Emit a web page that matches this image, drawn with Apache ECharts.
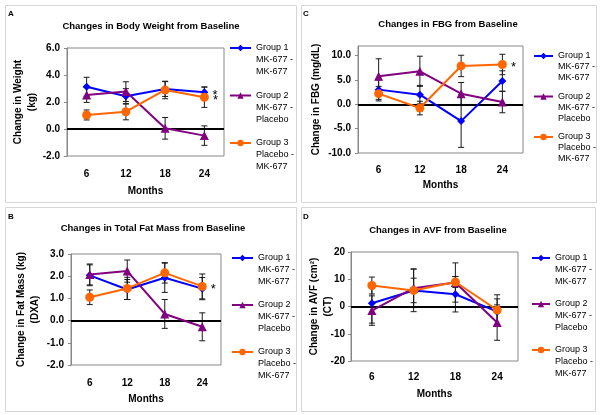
<!DOCTYPE html>
<html>
<head>
<meta charset="utf-8">
<script src="https://cdn.jsdelivr.net/npm/echarts@6/dist/echarts.min.js"></script>
<style>html,body{margin:0;padding:0;background:#fff}#c{width:600px;height:415px}</style>
</head>
<body>
<div id="c"></div>
<script>
// ---- data ----
const months = ['6', '12', '18', '24'];
const groupNames = ['Group 1', 'Group 2', 'Group 3'];
const groupLabels = ['Group 1\nMK-677 -\nMK-677', 'Group 2\nMK-677 -\nPlacebo', 'Group 3\nPlacebo -\nMK-677'];

// A: Body weight (kg)
const weightG1 = [3.13, 2.42, 2.96, 2.72];
const weightG2 = [2.52, 2.77, 0.05, -0.49];
const weightG3 = [1.04, 1.28, 2.89, 2.35];
const weightErrG1 = [0.70, 0.57, 0.55, 0.40];
const weightErrG2 = [0.55, 0.73, 0.80, 0.72];
const weightErrG3 = [0.37, 0.60, 0.65, 0.75];

// B: Total fat mass (kg)
const fatG1 = [2.04, 1.40, 1.93, 1.44];
const fatG2 = [2.08, 2.23, 0.30, -0.28];
const fatG3 = [1.05, 1.45, 2.15, 1.54];
const fatErrG1 = [0.47, 0.45, 0.66, 0.50];
const fatErrG2 = [0.47, 0.50, 0.65, 0.63];
const fatErrG3 = [0.33, 0.50, 0.46, 0.56];

// C: FBG (mg/dL)
const fbgG1 = [3.03, 2.00, -3.44, 4.80];
const fbgG2 = [5.77, 6.80, 2.20, 0.47];
const fbgG3 = [2.20, -0.76, 7.90, 8.20];
const fbgErrG1 = [2.0, 1.9, 5.4, 2.1];
const fbgErrG2 = [3.6, 3.1, 2.3, 2.2];
const fbgErrG3 = [1.5, 1.4, 2.2, 2.1];

// D: AVF (cm²)
const avfG1 = [1.2, 5.9, 4.5, -1.9];
const avfG2 = [-1.5, 6.7, 8.8, -5.9];
const avfG3 = [7.7, 5.9, 9.0, -1.3];
const avfErrG1 = [7.3, 7.8, 6.5, 4.7];
const avfErrG2 = [5.4, 7.1, 7.2, 6.5];
const avfErrG3 = [3.1, 4.5, 2.0, 5.6];

// significance asterisks: [panel, group index, month index]
const asterisks = [['A', 0, 3], ['A', 2, 3], ['B', 2, 3], ['C', 2, 3]];

// ---- style ----
const FONT = 'Liberation Sans, Arial, sans-serif';
const colors = ['#0000FF', '#800080', '#FF6600'];
const symbols = ['diamond', 'triangle', 'circle'];
const symbolSizes = [8, 9, 9];

const panels = [
  { id: 'A', title: 'Changes in Body Weight from Baseline', yName: 'Change in Weight\n(kg)',
    vals: [weightG1, weightG2, weightG3], errs: [weightErrG1, weightErrG2, weightErrG3],
    grid: { left: 67, top: 48, width: 157, height: 108 }, y: { min: -2, max: 6, interval: 2, dec: 1 },
    titleX: 151, titleY: 21.5, letter: [8, 10], nameGap: 27.5, yMargin: 7, labMargin: 13, monthsGap: 30,
    legend: { left: 229, top: 18, itemWidth: 21, lh: 12, gap: -12.5 }, box: [5, 5, 291, 197] },
  { id: 'B', title: 'Changes in Total Fat Mass from Baseline', yName: 'Change in Fat Mass (kg)\n(DXA)',
    vals: [fatG1, fatG2, fatG3], errs: [fatErrG1, fatErrG2, fatErrG3],
    grid: { left: 71, top: 254, width: 150, height: 111 }, y: { min: -2, max: 3, interval: 1, dec: 1 },
    titleX: 153, titleY: 223.5, letter: [8, 213], nameGap: 29, yMargin: 7, labMargin: 13, monthsGap: 29,
    legend: { left: 231, top: 228, itemWidth: 21, lh: 12, gap: -13 }, box: [5, 207, 291, 204] },
  { id: 'C', title: 'Changes in FBG from Baseline', yName: 'Change in FBG (mg/dL)',
    vals: [fbgG1, fbgG2, fbgG3], errs: [fbgErrG1, fbgErrG2, fbgErrG3],
    grid: { left: 358, top: 46, width: 165, height: 107 }, y: { min: -10, max: 12, interval: 5, dec: 1 },
    titleX: 448, titleY: 19, letter: [303, 10], nameGap: 35, yMargin: 7, labMargin: 12, monthsGap: 27,
    legend: { left: 533, top: 28.5, itemWidth: 19, lh: 11, gap: -14.5 }, box: [301, 5, 295, 197] },
  { id: 'D', title: 'Changes in AVF from Baseline', yName: 'Change in AVF (cm²)\n(CT)',
    vals: [avfG1, avfG2, avfG3], errs: [avfErrG1, avfErrG2, avfErrG3],
    grid: { left: 351, top: 252, width: 167, height: 109 }, y: { min: -20, max: 20, interval: 10, dec: 0 },
    titleX: 438, titleY: 225, letter: [303, 213], nameGap: 16, yMargin: 6, labMargin: 11, monthsGap: 28,
    legend: { left: 531, top: 228, itemWidth: 18, lh: 12, gap: -14 }, box: [301, 207, 294, 204] }
];

function errRender(params, api) {
  const x = api.value(0), y = api.value(1), e = api.value(2);
  const hi = api.coord([x, y + e]);
  const lo = api.coord([x, y - e]);
  const w = 3;
  const st = { stroke: '#1a1a1a', lineWidth: 1 };
  return { type: 'group', children: [
    { type: 'line', shape: { x1: hi[0], y1: hi[1], x2: lo[0], y2: lo[1] }, style: st },
    { type: 'line', shape: { x1: hi[0] - w, y1: hi[1], x2: hi[0] + w, y2: hi[1] }, style: st },
    { type: 'line', shape: { x1: lo[0] - w, y1: lo[1], x2: lo[0] + w, y2: lo[1] }, style: st }
  ]};
}

const option = {
  animation: false,
  textStyle: { fontFamily: FONT },
  title: [], legend: [], grid: [], xAxis: [], yAxis: [], series: [],
  graphic: []
};

panels.forEach((p, pi) => {
  option.graphic.push({ type: 'rect', shape: { x: p.box[0] + 0.5, y: p.box[1] + 0.5, width: p.box[2], height: p.box[3] },
    style: { fill: 'none', stroke: '#d6d6d6', lineWidth: 1 }, silent: true, z: -10 });
  option.title.push({ text: p.title, left: p.titleX, top: p.titleY, textAlign: 'center', padding: 0,
    textStyle: { fontFamily: FONT, fontSize: 9.5, fontWeight: 'bold', color: '#000' } });
  option.title.push({ text: p.id, left: p.letter[0], top: p.letter[1], padding: 0,
    textStyle: { fontFamily: FONT, fontSize: 8, fontWeight: 'bold', color: '#000' } });
  option.grid.push(Object.assign({ show: true, borderColor: '#888', borderWidth: 1, backgroundColor: '#fff' }, p.grid));
  option.xAxis.push({ type: 'category', gridIndex: pi, data: months,
    name: 'Months', nameLocation: 'middle', nameGap: p.monthsGap, nameMoveOverlap: false,
    nameTextStyle: { fontFamily: FONT, fontSize: 10, fontWeight: 'bold', color: '#000' },
    axisLine: { show: false }, axisTick: { show: false },
    axisLabel: { margin: p.labMargin, fontFamily: FONT, fontSize: 10, fontWeight: 'bold', color: '#000' } });
  option.yAxis.push({ type: 'value', gridIndex: pi, min: p.y.min, max: p.y.max, interval: p.y.interval,
    name: p.yName, nameLocation: 'middle', nameRotate: 90, nameGap: p.nameGap, nameMoveOverlap: false,
    nameTextStyle: { fontFamily: FONT, fontSize: 10, fontWeight: 'bold', color: '#000', lineHeight: 14 },
    splitLine: { show: false },
    axisLine: { show: true, lineStyle: { color: '#888' } },
    axisTick: { show: true, length: 3, lineStyle: { color: '#888' } },
    axisLabel: { margin: p.yMargin, fontFamily: FONT, fontSize: 10, fontWeight: 'bold', color: '#000', showMaxLabel: p.id !== 'C',
      formatter: v => v.toFixed(p.y.dec) } });
  option.legend.push({ orient: 'vertical', left: p.legend.left, top: p.legend.top, padding: 0,
    itemWidth: p.legend.itemWidth, itemHeight: 8, itemGap: p.legend.gap, data: groupNames,
    selectedMode: false,
    // two leading empty lines so that the icon lines up with the first text line
    formatter: name => '\n\n' + groupLabels[groupNames.indexOf(name)],
    textStyle: { fontFamily: FONT, fontSize: 9, color: '#000', lineHeight: p.legend.lh } });
  // error bars
  p.vals.forEach((vals, gi) => {
    option.series.push({ type: 'custom', name: 'err' + p.id + gi, xAxisIndex: pi, yAxisIndex: pi,
      renderItem: errRender, z: 1, silent: true,
      data: months.map((m, i) => [i, vals[i], p.errs[gi][i]]) });
  });
  // lines
  p.vals.forEach((vals, gi) => {
    const data = vals.map((v, i) => {
      const star = asterisks.some(a => a[0] === p.id && a[1] === gi && a[2] === i);
      if (!star) return v;
      return { value: v, label: { show: true, formatter: '*', position: 'right', distance: 4, offset: [0, 3],
        fontFamily: FONT, fontSize: 13, color: '#000' } };
    });
    const s = { type: 'line', name: groupNames[gi], xAxisIndex: pi, yAxisIndex: pi, data: data,
      symbol: symbols[gi], symbolSize: symbolSizes[gi], z: 3 + gi,
      itemStyle: { color: colors[gi] }, lineStyle: { color: colors[gi], width: 2 } };
    if (gi === 0) {
      s.markLine = { silent: true, symbol: 'none', label: { show: false }, z: 2,
        lineStyle: { color: '#000', width: 2, type: 'solid' }, data: [{ yAxis: 0 }] };
    }
    option.series.push(s);
  });
});

const chart = echarts.init(document.getElementById('c'), null, { renderer: 'canvas' });
chart.setOption(option);
</script>
</body>
</html>
